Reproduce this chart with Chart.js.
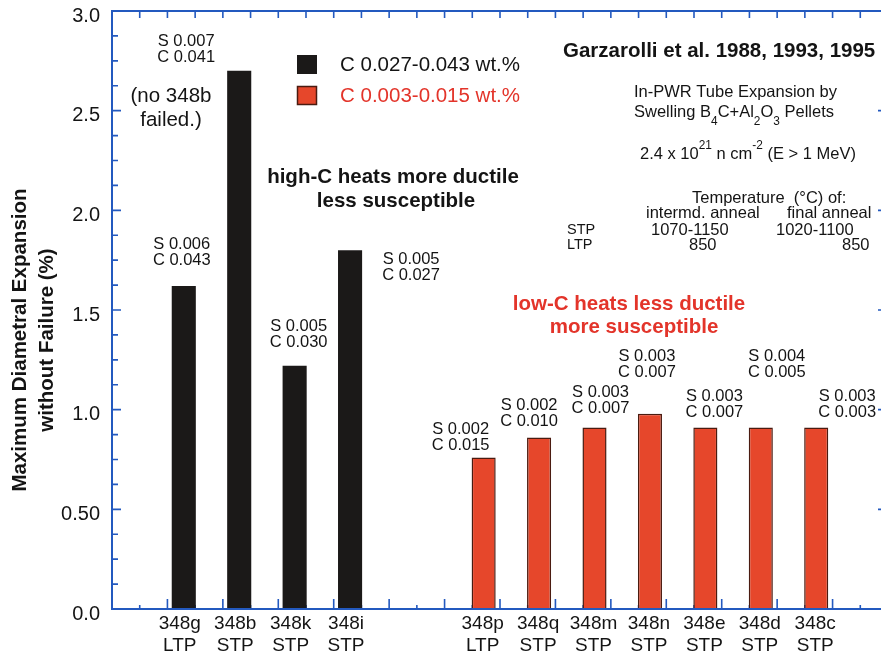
<!DOCTYPE html>
<html><head><meta charset="utf-8">
<script src="https://cdn.jsdelivr.net/npm/chart.js@4/dist/chart.umd.min.js"></script>
<style>
html,body{margin:0;padding:0;background:#fff;overflow:hidden;width:881px;height:662px;}
#wrap{position:absolute;left:0;top:0;width:900px;height:662px;}
</style></head><body>
<div id="wrap"><canvas id="c" width="900" height="662"></canvas></div>
<script>
// ---- data ----
const categories = ['', '348g', '348b', '348k', '348i', '', '348p', '348q', '348m', '348n', '348e', '348d', '348c', ''];
const treatments = ['', 'LTP', 'STP', 'STP', 'STP', '', 'LTP', 'STP', 'STP', 'STP', 'STP', 'STP', 'STP', ''];
const highC = [null, 1.62, 2.70, 1.22, 1.80, null, null, null, null, null, null, null, null, null];
const lowC = [null, null, null, null, null, null, 0.76, 0.86, 0.91, 0.98, 0.91, 0.91, 0.91, null];
const sulfur = ['', '0.006', '0.007', '0.005', '0.005', '', '0.002', '0.002', '0.003', '0.003', '0.003', '0.004', '0.003', ''];
const carbon = ['', '0.043', '0.041', '0.030', '0.027', '', '0.015', '0.010', '0.007', '0.007', '0.007', '0.005', '0.003', ''];
const yTickLabels = ['0.0', '0.50', '1.0', '1.5', '2.0', '2.5', '3.0'];
const legendLabels = ['C 0.027-0.043 wt.%', 'C 0.003-0.015 wt.%'];

// ---- styles ----
const FONT = "'Liberation Sans', Arial, Helvetica, sans-serif";
const AXIS_BLUE = '#2359bf';
const BLACK_BAR = '#1b1918';
const RED_BAR = '#e6472b';
const RED_EDGE = '#4a1b10';
const RED_TEXT = '#e3342a';
const INK = '#141414';
// offsets of the S/C annotation (dx from bar centre, dy of 2nd line from bar top)
const annOffsets = [null, [-2, -26], [-53, -13], [4, -23], [61, 25], null, [-23, -12], [-10, -16], [6, -19], [-3, -41], [9, -15], [16, -55], [31, -15], null];

function txt(ctx, s, x, y, size, color, align, bold) {
  ctx.font = (bold ? 'bold ' : '') + size + 'px ' + FONT;
  ctx.fillStyle = color;
  ctx.textAlign = align || 'center';
  ctx.textBaseline = 'middle';
  ctx.fillText(s, x, y);
}
function rich(ctx, x, y, parts, size, color) {
  let cx = x;
  ctx.fillStyle = color; ctx.textAlign = 'left'; ctx.textBaseline = 'middle';
  for (const p of parts) {
    const fs = p.s ? size * 0.72 : size;
    ctx.font = fs + 'px ' + FONT;
    const dy = p.s === 'sub' ? size * 0.6 : (p.s === 'sup' ? -size * 0.48 : 0);
    ctx.fillText(p.t, cx, y + dy);
    cx += ctx.measureText(p.t).width;
  }
}

const framePlugin = {
  id: 'frame',
  beforeDatasetsDraw(chart) {
    const {ctx, chartArea: a, scales: {x, y}} = chart;
    ctx.save();
    ctx.strokeStyle = AXIS_BLUE; ctx.lineWidth = 1.6;
    ctx.beginPath();
    for (let k = 0; k <= 24; k++) {
      const v = k * 0.125;
      const py = y.getPixelForValue(v);
      const major = k % 4 === 0;
      ctx.moveTo(a.left, py); ctx.lineTo(a.left + (major ? 9 : 6), py);
      if (major) { ctx.moveTo(a.right, py); ctx.lineTo(a.right - 10, py); }
    }
    const n = categories.length;
    for (let i = 0; i < n; i++) {
      const c = x.getPixelForValue(i);
      ctx.moveTo(c, a.top); ctx.lineTo(c, a.top + 7);
      ctx.moveTo(c, a.bottom); ctx.lineTo(c, a.bottom - 4);
      if (i < n - 1) {
        const b = x.getPixelForValue(i + 0.5);
        ctx.moveTo(b, a.top); ctx.lineTo(b, a.top + 7);
        ctx.moveTo(b, a.bottom); ctx.lineTo(b, a.bottom - 10);
      }
    }
    ctx.stroke();
    ctx.restore();
  },
  afterDatasetsDraw(chart) {
    const {ctx, chartArea: a} = chart;
    ctx.save();
    ctx.strokeStyle = AXIS_BLUE; ctx.lineWidth = 2;
    ctx.strokeRect(a.left, a.top, a.right - a.left, a.bottom - a.top);
    ctx.restore();
  },
  afterDraw(chart) {
    const {ctx, chartArea: a} = chart;
    ctx.save();
    // y-axis title
    ctx.save();
    ctx.translate(20, 340); ctx.rotate(-Math.PI / 2);
    txt(ctx, 'Maximum Diametral Expansion', 0, 0, 20.5, INK, 'center', true);
    ctx.restore();
    ctx.save();
    ctx.translate(47, 340); ctx.rotate(-Math.PI / 2);
    txt(ctx, 'without Failure (%)', 0, 0, 20.5, INK, 'center', true);
    ctx.restore();

    // category labels and S/C annotations from bar elements
    [0, 1].forEach(di => {
      const meta = chart.getDatasetMeta(di);
      const shift = di === 0 ? -4 : -1;
      meta.data.forEach((el, i) => {
        const val = chart.data.datasets[di].data[i];
        if (val === null || val === undefined) return;
        txt(ctx, categories[i], el.x + shift, a.bottom + 15, 19, INK);
        txt(ctx, treatments[i], el.x + shift, a.bottom + 37, 19, INK);
        const off = annOffsets[i];
        txt(ctx, 'S ' + sulfur[i], el.x + off[0], el.y + off[1] - 16, 16.5, INK);
        txt(ctx, 'C ' + carbon[i], el.x + off[0], el.y + off[1], 16.5, INK);
      });
    });

    // legend
    ctx.fillStyle = BLACK_BAR; ctx.fillRect(297, 55, 20, 19);
    ctx.fillStyle = RED_BAR; ctx.fillRect(297, 86, 20, 19);
    ctx.strokeStyle = RED_EDGE; ctx.lineWidth = 1.5; ctx.strokeRect(297.5, 86.5, 19, 18);
    txt(ctx, legendLabels[0], 340, 65, 20.5, INK, 'left');
    txt(ctx, legendLabels[1], 340, 96, 20.5, RED_TEXT, 'left');

    // notes
    txt(ctx, '(no 348b', 171, 96, 20.5, INK);
    txt(ctx, 'failed.)', 171, 120, 20.5, INK);
    txt(ctx, 'high-C heats more ductile', 393, 177, 20.5, INK, 'center', true);
    txt(ctx, 'less susceptible', 396, 201, 20.5, INK, 'center', true);
    txt(ctx, 'low-C heats less ductile', 629, 304, 20.5, RED_TEXT, 'center', true);
    txt(ctx, 'more susceptible', 634, 327, 20.5, RED_TEXT, 'center', true);

    txt(ctx, 'Garzarolli et al. 1988, 1993, 1995', 563, 51, 20.5, INK, 'left', true);
    txt(ctx, 'In-PWR Tube Expansion by', 634, 92, 16.5, INK, 'left');
    rich(ctx, 634, 112, [{t: 'Swelling B'}, {t: '4', s: 'sub'}, {t: 'C+Al'}, {t: '2', s: 'sub'}, {t: 'O'}, {t: '3', s: 'sub'}, {t: ' Pellets'}], 16.5, INK);
    rich(ctx, 640, 154, [{t: '2.4 x 10'}, {t: '21', s: 'sup'}, {t: ' n cm'}, {t: '-2', s: 'sup'}, {t: ' (E > 1 MeV)'}], 16.5, INK);
    txt(ctx, 'Temperature  (\u00B0C) of:', 692, 198, 16.5, INK, 'left');
    txt(ctx, 'intermd. anneal', 646, 213, 16.5, INK, 'left');
    txt(ctx, 'final anneal', 787, 213, 16.5, INK, 'left');
    txt(ctx, 'STP', 567, 230, 14.5, INK, 'left');
    txt(ctx, '1070-1150', 651, 230, 16.5, INK, 'left');
    txt(ctx, '1020-1100', 776, 230, 16.5, INK, 'left');
    txt(ctx, 'LTP', 567, 245, 14.5, INK, 'left');
    txt(ctx, '850', 689, 245, 16.5, INK, 'left');
    txt(ctx, '850', 842, 245, 16.5, INK, 'left');
    ctx.restore();
  }
};

new Chart(document.getElementById('c').getContext('2d'), {
  type: 'bar',
  data: {
    labels: categories,
    datasets: [
      {label: legendLabels[0], data: highC, backgroundColor: BLACK_BAR, borderWidth: 0,
       categoryPercentage: 0.82, barPercentage: 1.06},
      {label: legendLabels[1], data: lowC, backgroundColor: RED_BAR, borderColor: RED_EDGE, borderWidth: 1.5,
       categoryPercentage: 0.82, barPercentage: 1.06}
    ]
  },
  options: {
    responsive: false,
    animation: false,
    layout: {padding: {left: 0, top: 11, right: 12, bottom: 0}},
    plugins: {legend: {display: false}, tooltip: {enabled: false}},
    scales: {
      x: {
        grid: {display: false, drawTicks: false},
        border: {display: false},
        ticks: {display: false},
        afterFit: s => { s.height = 53; s.paddingLeft = 0; s.paddingRight = 0; }
      },
      y: {
        min: 0, max: 3,
        grid: {display: false, drawTicks: false},
        border: {display: false},
        ticks: {stepSize: 0.5, padding: 12, labelOffset: 5, color: INK,
                font: {family: FONT, size: 20, lineHeight: 1},
                callback: (v, i) => yTickLabels[i]},
        afterFit: s => { s.width = 112; s.paddingTop = 0; s.paddingBottom = 0; }
      }
    }
  },
  plugins: [framePlugin]
});
</script>
</body></html>
